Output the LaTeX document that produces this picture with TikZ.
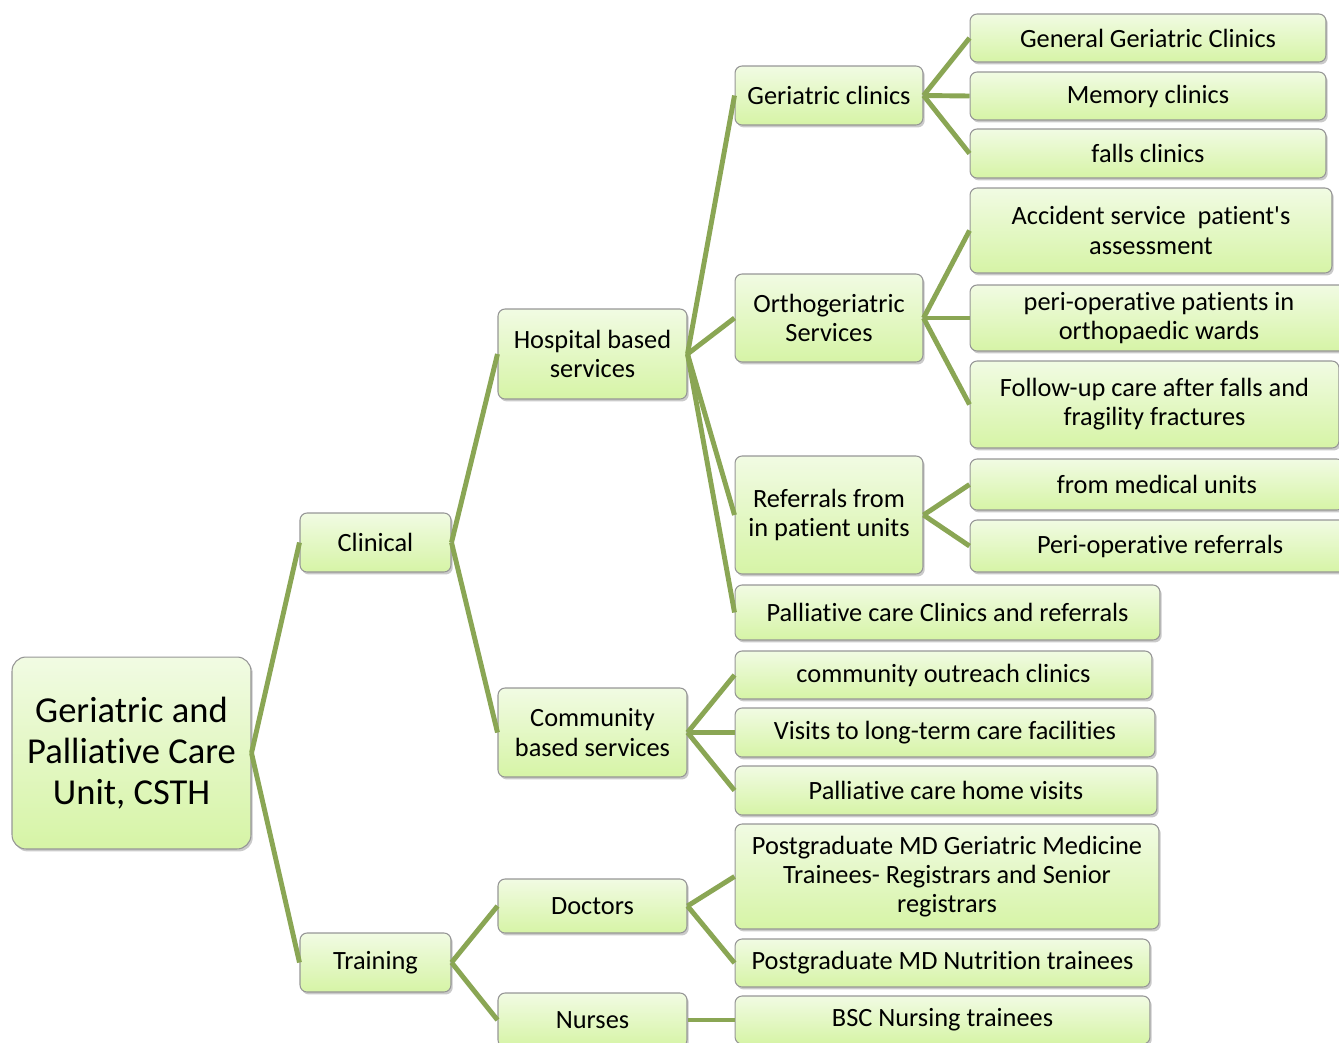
\documentclass[tikz,border=0pt]{standalone}
\usepackage{fontspec}
\setmainfont{Carlito}[Ligatures=NoCommon]
\usetikzlibrary{shadows}

\definecolor{boxtop}{RGB}{241,251,227}
\definecolor{boxbot}{RGB}{214,244,166}
\definecolor{boxline}{RGB}{150,150,150}
\definecolor{linkgreen}{RGB}{138,166,84}

\tikzset{
	box/.style={rectangle, rounded corners=4pt, draw=boxline, line width=0.6pt,
		top color=boxtop, bottom color=boxbot, align=center, inner sep=0pt,
		font=\fontsize{15}{16.6}\selectfont,
		drop shadow={shadow xshift=1pt, shadow yshift=-1.4pt, opacity=0.35, fill=black!60}},
	rootbox/.style={box, rounded corners=8pt, font=\fontsize{20.8}{23.3}\selectfont},
	link/.style={draw=linkgreen, line width=2.8pt},
}

\begin{document}
\begin{tikzpicture}[x=0.02cm, y=-0.02cm]
		\useasboundingbox (0,0) rectangle (1339,1042);
		% levels 0 and 1
		\node[rootbox, minimum width=4.78cm, minimum height=3.84cm] (root) at (131.5,753) {Geriatric and\\Palliative Care\\Unit, CSTH};
		\node[box, minimum width=3.02cm, minimum height=1.18cm] (clin) at (375.5,542.5) {Clinical};
		\node[box, minimum width=3.02cm, minimum height=1.18cm] (train) at (375.5,962.5) {Training};
		% level 2
		\node[box, minimum width=3.78cm, minimum height=1.80cm] (hosp) at (592.5,354) {Hospital based\\services};
		\node[box, minimum width=3.78cm, minimum height=1.78cm] (comm) at (592.5,732.5) {Community\\based services};
		\node[box, minimum width=3.78cm, minimum height=1.08cm] (doc) at (592.5,906) {Doctors};
		\node[box, minimum width=3.78cm, minimum height=1.08cm] (nurse) at (592.5,1020) {Nurses};
		% level 3
		\node[box, minimum width=3.76cm, minimum height=1.18cm] (ger) at (829,95.5) {Geriatric clinics};
		\node[box, minimum width=3.76cm, minimum height=1.76cm] (ortho) at (829,318) {Orthogeriatric\\Services};
		\node[box, minimum width=3.76cm, minimum height=2.36cm] (ref) at (829,515) {Referrals from\\in patient units};
		\node[box, minimum width=8.50cm, minimum height=1.10cm] (pall) at (947.5,612.5) {Palliative care Clinics and referrals};
		\node[box, minimum width=8.34cm, minimum height=0.96cm] (outr) at (943.5,675) {community outreach clinics};
		\node[box, minimum width=8.40cm, minimum height=0.98cm] (ltc) at (945,732.5) {Visits to long-term care facilities};
		\node[box, minimum width=8.44cm, minimum height=0.98cm] (home) at (946,790.5) {Palliative care home visits};
		\node[box, minimum width=8.48cm, minimum height=2.10cm] (pgger) at (947,876.5) {Postgraduate MD Geriatric Medicine\\Trainees- Registrars and Senior\\registrars};
		\node[box, minimum width=8.30cm, minimum height=0.96cm] (pgnut) at (942.5,963) {Postgraduate MD Nutrition trainees};
		\node[box, minimum width=8.30cm, minimum height=0.96cm] (bsc) at (942.5,1020) {BSC Nursing trainees};
		% level 4
		\node[box, minimum width=7.12cm, minimum height=0.96cm] (gen) at (1148,38) {General Geriatric Clinics};
		\node[box, minimum width=7.12cm, minimum height=0.96cm] (mem) at (1148,96) {Memory clinics};
		\node[box, minimum width=7.12cm, minimum height=0.98cm] (falls) at (1148,153.5) {falls clinics};
		\node[box, minimum width=7.24cm, minimum height=1.70cm] (acc) at (1151,230.5) {Accident service~ patient\textquotesingle s\\assessment};
		\node[box, minimum width=7.56cm, minimum height=1.32cm] (periop) at (1159,318) {peri-operative patients in\\orthopaedic wards};
		\node[box, minimum width=7.38cm, minimum height=1.74cm] (follow) at (1154.5,404.5) {Follow-up care after falls and\\fragility fractures};
		\node[box, minimum width=7.48cm, minimum height=1.02cm] (med) at (1157,484.5) {from medical units};
		\node[box, minimum width=7.60cm, minimum height=1.04cm] (perref) at (1160,546) {Peri-operative referrals};
		%
		\draw[link] (root.east) -- (clin.west);
		\draw[link] (root.east) -- (train.west);
		\draw[link] (clin.east) -- (hosp.west);
		\draw[link] (clin.east) -- (comm.west);
		\draw[link] (train.east) -- (doc.west);
		\draw[link] (train.east) -- (nurse.west);
		\draw[link] (hosp.east) -- (ger.west);
		\draw[link] (hosp.east) -- (ortho.west);
		\draw[link] (hosp.east) -- (ref.west);
		\draw[link] (hosp.east) -- (pall.west);
		\draw[link] (comm.east) -- (outr.west);
		\draw[link] (comm.east) -- (ltc.west);
		\draw[link] (comm.east) -- (home.west);
		\draw[link] (doc.east) -- (pgger.west);
		\draw[link] (doc.east) -- (pgnut.west);
		\draw[link] (nurse.east) -- (bsc.west);
		\draw[link] (ger.east) -- (gen.west);
		\draw[link] (ger.east) -- (mem.west);
		\draw[link] (ger.east) -- (falls.west);
		\draw[link] (ortho.east) -- (acc.west);
		\draw[link] (ortho.east) -- (periop.west);
		\draw[link] (ortho.east) -- (follow.west);
		\draw[link] (ref.east) -- (med.west);
		\draw[link] (ref.east) -- (perref.west);
	\end{tikzpicture}
\end{document}
